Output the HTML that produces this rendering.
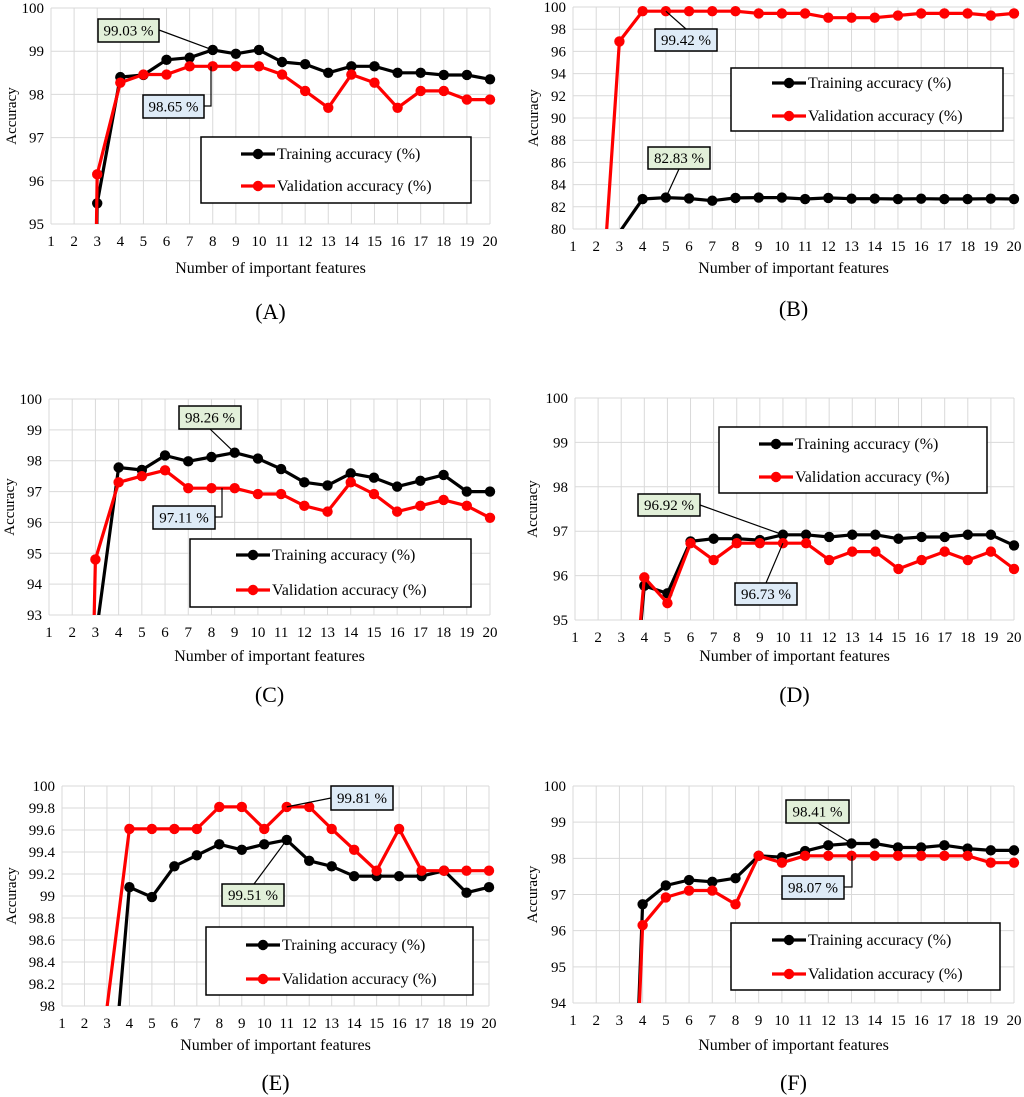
<!DOCTYPE html>
<html><head><meta charset="utf-8">
<style>
html,body{margin:0;padding:0;background:#fff;width:1024px;height:1097px;overflow:hidden;}
svg{display:block;font-family:"Liberation Serif",serif;}
</style></head>
<body>
<svg id="fig" width="1024" height="1097" viewBox="0 0 1024 1097"></svg>
<script>
// ---------- data ----------
const featureCounts = [1,2,3,4,5,6,7,8,9,10,11,12,13,14,15,16,17,18,19,20];
const trainA = [null,60,95.48,98.4,98.45,98.8,98.85,99.03,98.94,99.03,98.75,98.7,98.5,98.65,98.65,98.5,98.5,98.45,98.45,98.35];
const valA   = [null,60,96.15,98.27,98.46,98.46,98.65,98.65,98.65,98.65,98.46,98.08,97.69,98.46,98.27,97.69,98.08,98.08,97.88,97.88];
const trainB = [null,null,79.7,82.7,82.83,82.75,82.55,82.8,82.83,82.83,82.7,82.8,82.73,82.73,82.7,82.73,82.7,82.7,82.73,82.7];
const valB   = [null,66,96.9,99.62,99.62,99.62,99.62,99.62,99.42,99.42,99.42,99.04,99.04,99.04,99.23,99.42,99.42,99.42,99.23,99.42];
const trainC = [null,null,92.2,97.78,97.7,98.17,97.98,98.12,98.26,98.07,97.73,97.3,97.2,97.59,97.45,97.16,97.35,97.54,97.0,97.0];
const valC   = [null,60,94.8,97.3,97.5,97.69,97.11,97.11,97.11,96.92,96.92,96.54,96.35,97.3,96.92,96.35,96.54,96.73,96.54,96.15];
const trainD = [null,null,90,95.77,95.6,96.77,96.83,96.83,96.8,96.92,96.92,96.87,96.92,96.92,96.83,96.87,96.87,96.92,96.92,96.68];
const valD   = [null,null,90,95.96,95.38,96.73,96.35,96.73,96.73,96.73,96.73,96.35,96.54,96.54,96.15,96.35,96.54,96.35,96.54,96.15];
const trainE = [null,null,96.7,99.08,98.99,99.27,99.37,99.47,99.42,99.47,99.51,99.32,99.27,99.18,99.18,99.18,99.18,99.23,99.03,99.08];
const valE   = [null,90,97.98,99.61,99.61,99.61,99.61,99.81,99.81,99.61,99.81,99.81,99.61,99.42,99.23,99.61,99.23,99.23,99.23,99.23];
const trainF = [null,null,80,96.73,97.25,97.4,97.35,97.45,98.07,98.03,98.2,98.36,98.41,98.41,98.3,98.3,98.36,98.27,98.22,98.22];
const valF   = [null,null,80,96.15,96.92,97.11,97.11,96.73,98.07,97.88,98.07,98.07,98.07,98.07,98.07,98.07,98.07,98.07,97.88,97.88];
const ticksA = [95,96,97,98,99,100];
const ticksB = [80,82,84,86,88,90,92,94,96,98,100];
const ticksC = [93,94,95,96,97,98,99,100];
const ticksD = [95,96,97,98,99,100];
const ticksE = [98,98.2,98.4,98.6,98.8,99,99.2,99.4,99.6,99.8,100];
const ticksF = [94,95,96,97,98,99,100];

const NS = "http://www.w3.org/2000/svg";
const svg = document.getElementById('fig');
function mk(tag, attrs, parent){
  const e = document.createElementNS(NS, tag);
  for (const k in attrs) e.setAttribute(k, attrs[k]);
  (parent||svg).appendChild(e);
  return e;
}

const panels = [
 {id:'a', letter:'(A)', L:51, R:490, T:8, B:224, ticks:ticksA, train:trainA, val:valA, ylab:10, xtitle:268, plab:311,
  leg:[201,137,471,203], legY:[154,186], legX:241,
  ann:[{txt:'99.03 %', fill:'#e2f0d9', box:[98,19,61,23], from:[159,30], via:null, idx:7, ser:'train'},
       {txt:'98.65 %', fill:'#deebf7', box:[143,95,61,23], from:[204,106], via:[211,106], idx:7, ser:'val'}]},
 {id:'b', letter:'(B)', L:573, R:1014, T:7, B:229, ticks:ticksB, train:trainB, val:valB, ylab:532, xtitle:268, plab:308,
  leg:[731,68,1003,131], legY:[83,116], legX:772,
  ann:[{txt:'99.42 %', fill:'#deebf7', box:[655,29,62,22], from:[686,29], via:null, idx:4, ser:'val'},
       {txt:'82.83 %', fill:'#e2f0d9', box:[648,147,62,22], from:[679,169], via:null, idx:4, ser:'train'}]},
 {id:'c', letter:'(C)', L:49, R:490, T:399, B:615, ticks:ticksC, train:trainC, val:valC, ylab:8, xtitle:656, plab:694,
  leg:[190,539,471,607], legY:[555,590], legX:236,
  ann:[{txt:'98.26 %', fill:'#e2f0d9', box:[179,406,62,23], from:[210,429], via:null, idx:8, ser:'train'},
       {txt:'97.11 %', fill:'#deebf7', box:[153,506,62,23], from:[215,517], via:[222,517], idx:8, ser:'val'}]},
 {id:'d', letter:'(D)', L:575, R:1014, T:398, B:620, ticks:ticksD, train:trainD, val:valD, ylab:531, xtitle:656, plab:694,
  leg:[719,427,987,493], legY:[444,477], legX:759,
  ann:[{txt:'96.92 %', fill:'#e2f0d9', box:[638,494,62,22], from:[700,505], via:null, idx:9, ser:'train'},
       {txt:'96.73 %', fill:'#deebf7', box:[735,583,62,22], from:[766,583], via:null, idx:9, ser:'val'}]},
 {id:'e', letter:'(E)', L:62, R:489, T:786, B:1006, ticks:ticksE, train:trainE, val:valE, ylab:10, xtitle:1045, plab:1082,
  leg:[206,927,473,995], legY:[945,979], legX:246,
  ann:[{txt:'99.81 %', fill:'#deebf7', box:[331,786,62,24], from:[331,798], via:null, idx:10, ser:'val'},
       {txt:'99.51 %', fill:'#e2f0d9', box:[222,884,62,22], from:[254,884], via:null, idx:10, ser:'train'}]},
 {id:'f', letter:'(F)', L:573, R:1014, T:786, B:1003, ticks:ticksF, train:trainF, val:valF, ylab:531, xtitle:1045, plab:1082,
  leg:[731,923,1000,990], legY:[940,974], legX:772,
  ann:[{txt:'98.41 %', fill:'#e2f0d9', box:[786,800,63,23], from:[818,823], via:null, idx:12, ser:'train'},
       {txt:'98.07 %', fill:'#deebf7', box:[782,876,62,23], from:[844,887], via:[852,887], idx:12, ser:'val'}]}
];

panels.forEach(p => {
  const g = mk('g', {});
  
  
  const ymin = p.ticks[0], ymax = p.ticks[p.ticks.length-1];
  const xs = i => p.L + (featureCounts[i]-1) * (p.R - p.L) / (featureCounts.length-1);
  const ys = v => p.B - (v - ymin) * (p.B - p.T) / (ymax - ymin);
  const cp = mk('clipPath', {id:'clip-'+p.id}, g);
  mk('rect', {x:p.L-1, y:p.T-7, width:p.R-p.L+8, height:p.B-p.T+7}, cp);
  featureCounts.forEach((c,i) => {
    const ln = mk('line', {x1:xs(i), x2:xs(i), y1:p.T, y2:p.B, stroke:'#d9d9d9', 'stroke-width':1}, g);
    
    
    const t = mk('text', {x:xs(i), y:p.B+22, 'text-anchor':'middle', 'font-size':15, fill:'#000'}, g);
    t.textContent = c;
    
    
  });
  p.ticks.forEach(v => {
    const ln = mk('line', {x1:p.L, x2:p.R, y1:ys(v), y2:ys(v), stroke:'#d9d9d9', 'stroke-width':1}, g);
    
    
    const t = mk('text', {x:p.L-7, y:ys(v)+5, 'text-anchor':'end', 'font-size':15, fill:'#000'}, g);
    t.textContent = v;
    
    
  });
  const yt = mk('text', {x:0, y:0, 'font-size':15, 'text-anchor':'middle', transform:`translate(${p.ylab+6},${(p.T+p.B)/2}) rotate(-90)`}, g);
  yt.textContent = 'Accuracy';
  
  
  const xt = mk('text', {x:(p.L+p.R)/2, y:p.xtitle+5, 'font-size':16, 'text-anchor':'middle'}, g);
  xt.textContent = 'Number of important features';
  
  
  const pl = mk('text', {x:(p.L+p.R)/2, y:p.plab+8, 'font-size':22, 'text-anchor':'middle'}, g);
  pl.textContent = p.letter;
  
  
  const series = [{d:p.train, c:'#000', n:'training'}, {d:p.val, c:'#ff0000', n:'validation'}];
  series.forEach(s => {
    const sg = mk('g', {'clip-path':`url(#clip-${p.id})`}, g);
    let pts = [];
    s.d.forEach((v,i) => { if (v !== null) pts.push(xs(i).toFixed(1)+','+ys(v).toFixed(1)); });
    const pl2 = mk('polyline', {points:pts.join(' '), fill:'none', stroke:s.c, 'stroke-width':3.2, 'stroke-linejoin':'round'}, sg);
    
    
    s.d.forEach((v,i) => {
      if (v === null || v < ymin) return;
      const c = mk('circle', {cx:xs(i), cy:ys(v), r:5.2, fill:s.c}, sg);
      
      
    });
  });
  p.ann.forEach(a => {
    const d = a.ser === 'train' ? p.train : p.val;
    const tx = xs(a.idx), ty = ys(d[a.idx]);
    let pts = a.from.join(',') + ' ' + (a.via ? a.via.join(',') + ' ' + a.via[0] + ',' + ty : tx + ',' + ty);
    const ld = mk('polyline', {points:pts, fill:'none', stroke:'#000', 'stroke-width':1.2}, g);
    
    
    const r = mk('rect', {x:a.box[0], y:a.box[1], width:a.box[2], height:a.box[3], fill:a.fill, stroke:'#000', 'stroke-width':1.5}, g);
    
    
    const t = mk('text', {x:a.box[0]+a.box[2]/2, y:a.box[1]+a.box[3]/2+5, 'text-anchor':'middle', 'font-size':15}, g);
    t.textContent = a.txt;
    
    
  });
  const lg = mk('g', {}, g);
  
  
  mk('rect', {x:p.leg[0], y:p.leg[1], width:p.leg[2]-p.leg[0], height:p.leg[3]-p.leg[1], fill:'#fff', stroke:'#000', 'stroke-width':1.5}, lg);
  const names = ['Training accuracy (%)', 'Validation accuracy (%)'];
  series.forEach((s,k) => {
    const ey = p.legY[k];
    const eg = mk('g', {}, lg);
    
    
    mk('line', {x1:p.legX, x2:p.legX+34, y1:ey, y2:ey, stroke:s.c, 'stroke-width':3.2}, eg);
    mk('circle', {cx:p.legX+17, cy:ey, r:5.2, fill:s.c}, eg);
    const t = mk('text', {x:p.legX+36, y:ey+5, 'font-size':16}, eg);
    t.textContent = names[k];
  });
});
</script>
</body></html>
